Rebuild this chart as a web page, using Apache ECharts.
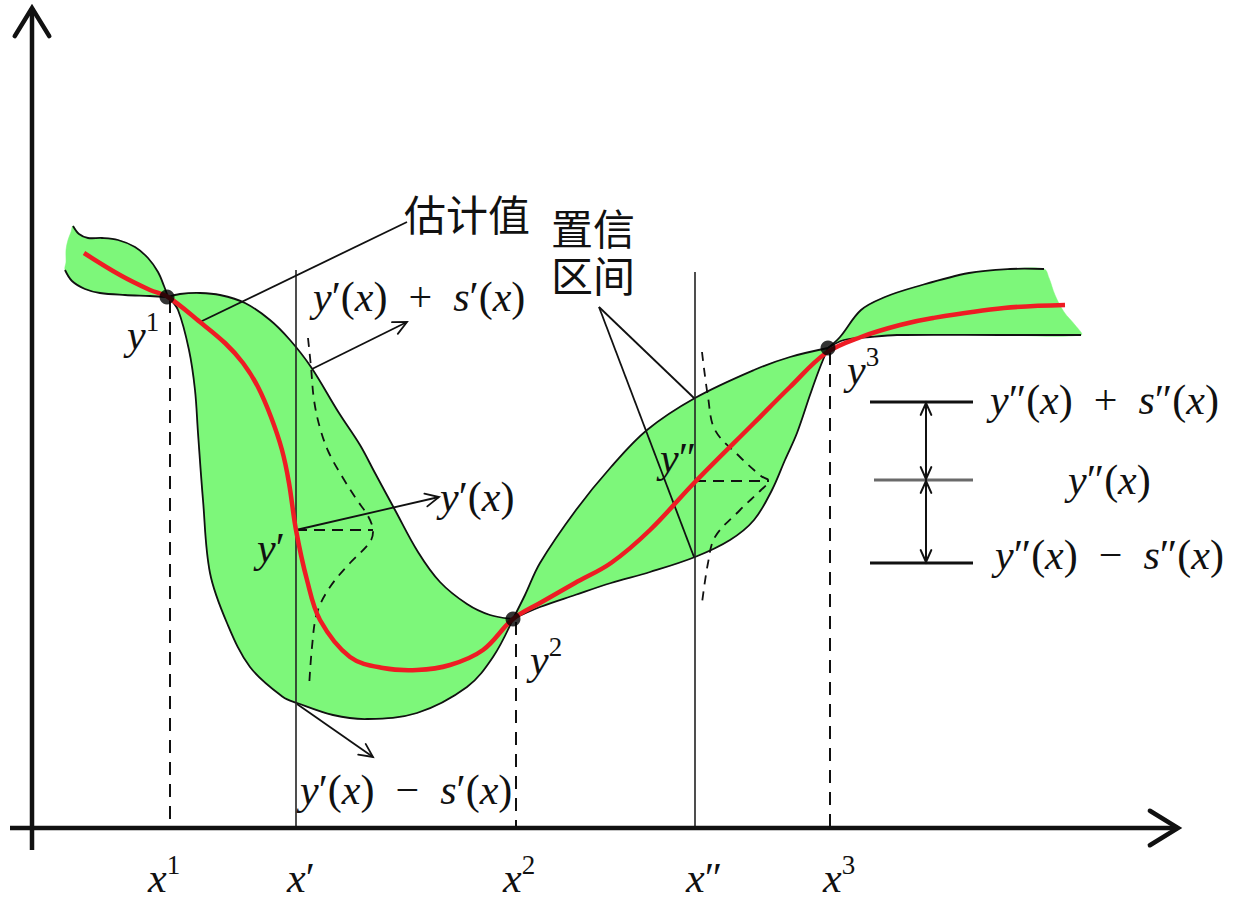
<!DOCTYPE html>
<html><head><meta charset="utf-8">
<script src="https://cdn.jsdelivr.net/npm/echarts@6/dist/echarts.min.js"></script>
<style>html,body{margin:0;padding:0;background:#fff}#c{width:1260px;height:902px}</style>
</head><body><div id="c"></div>
<script>
// ---- band (confidence interval) boundaries, in chart units ----
const leftLobeUpper = [[73,226],[79,234],[88,238],[102,238],[118,240],[135,247],[148,258],[158,272],[164,286],[168,297]];
const leftLobeLower = [[65,270],[72,281],[85,289],[100,293],[125,295],[150,296],[168,297]];
const leftLobeCap   = [[66,262],[66,250],[68,240],[71,232]];
const midLobeUpper  = [[168,297],[180,294],[200,293],[220,295],[245,303],[270,320],[290,340],[311,367],[339,413],[360,445],[375,473],[395,510],[418,552],[440,582],[467,604],[490,615],[513,619]];
const midLobeLower  = [[168,297],[178,310],[189,350],[195,390],[198,433],[203,500],[210,573],[227,623],[250,667],[283,697],[297,703],[333,715],[367,719],[417,713],[467,687],[493,657],[513,619]];
const rLobeUpper    = [[513,619],[525,595],[540,563],[576,510],[611,467],[647,430],[695,398],[754,370],[790,357],[828,348]];
const rLobeLower    = [[513,619],[540,607],[575,595],[611,583],[650,572],[695,557],[730,540],[754,520],[772,490],[785,460],[797,433],[810,395],[819,370],[828,348]];
const endLobeUpper  = [[828,348],[840,337],[861,310],[885,297],[915,287],[969,273],[1010,269],[1044,269]];
const endLobeCap    = [[1049,278],[1055,295],[1064,312],[1075,325]];
const endLobeLower  = [[828,348],[844,340],[870,337],[897,335],[1000,335],[1081,335]];

// ---- estimated curve ----
const estimate = [[84,253],[120,275],[150,290],[168,297],[200,322],[225,343],[243,363],[258,387],[271,417],[282,450],[289,483],[296,530],[307,580],[320,620],[350,657],[383,668],[417,670],[450,665],[483,650],[513,619],[540,603],[575,583],[611,563],[650,530],[695,482],[754,423],[790,387],[826,353],[861,337],[900,325],[933,318],[1004,308],[1065,305]];

// ---- sample nodes ----
const samples = [[167,297],[513,619],[828,348]];

// ---- probability density sketches ----
const densityA = [[308,338],[311,367],[314,400],[320,428],[329,453],[343,478],[357,500],[368,516],[373,530],[370,542],[350,563],[330,587],[317,613],[312,647],[309,688]];
const densityB = [[702,352],[708,397],[715,430],[740,457],[761,476],[769,481],[761,490],[740,510],[715,537],[708,563],[702,603]];

// ---- segments [x1,y1,x2,y2] ----
const axes        = [[32,850,32,8],[10,828,1178,828]];
const solidVerts  = [[296,270,296,828],[695,272,695,828]];
const dashedVerts = [[170,300,170,828],[516,622,516,828],[830,352,830,828]];
const dashedHoriz = [[296,530,373,530],[695,481,769,481]];
const leaders     = [[200,322,407,222],[599,307,694,398],[599,307,694,557]];
const pointers    = [[312,369,407,322],[296,530,439,497],[297,704,373,757]];
const scaleLines  = [[870,402,973,402],[870,563,973,563]];
const scaleMid    = [[874,480,973,480]];
const scaleArrows = [[926,479,926,403],[926,481,926,562]];

// ---- labels [text, x, y] ----
const mathLabels = [
  ['{i|y}{n|′(}{i|x}{n|)  +  }{i|s}{n|′(}{i|x}{n|)}', 313, 297],
  ['{i|y}{n|′(}{i|x}{n|)}', 440, 497],
  ['{i|y}{n|′(}{i|x}{n|)  −  }{i|s}{n|′(}{i|x}{n|)}', 300, 790],
  ['{i|y}{s|1}', 127, 335],
  ['{i|y}{n|′}', 257, 548],
  ['{i|y}{s|2}', 530, 660],
  ['{i|y}{s|3}', 847, 370],
  ['{i|y}{n|″}', 660, 458],
  ['{i|y}{n|″(}{i|x}{n|)  +  }{i|s}{n|″(}{i|x}{n|)}', 990, 400],
  ['{i|y}{n|″(}{i|x}{n|)}', 1068, 480],
  ['{i|y}{n|″(}{i|x}{n|)  −  }{i|s}{n|″(}{i|x}{n|)}', 995, 555],
  ['{i|x}{s|1}', 148, 878],
  ['{i|x}{n|′}', 287, 878],
  ['{i|x}{s|2}', 503, 878],
  ['{i|x}{n|″}', 686, 878],
  ['{i|x}{s|3}', 823, 878]
];
const cjkLabels = [['估计值', 404, 212],['置信', 551, 226],['区间', 551, 273]];

const lobes = [
  {upper:leftLobeUpper, lower:leftLobeLower, left:leftLobeCap, right:[]},
  {upper:midLobeUpper, lower:midLobeLower, left:[], right:[]},
  {upper:rLobeUpper, lower:rLobeLower, left:[], right:[]},
  {upper:endLobeUpper, lower:endLobeLower, left:[], right:endLobeCap}
];

const GREEN = '#7df77a';
const SM = 0.35;

function bandItem(params, api){
  const l = lobes[params.dataIndex];
  const px = p => api.coord(p);
  const up = l.upper.map(px), lo = l.lower.map(px);
  const poly = up.concat(l.right.map(px), lo.slice().reverse(), l.left.map(px));
  return {type:'group', children:[
    {type:'polygon', shape:{points:poly, smooth:SM}, style:{fill:GREEN, stroke:GREEN, lineWidth:0.5}},
    {type:'polyline', shape:{points:up, smooth:SM}, style:{stroke:'#111', lineWidth:1.8, fill:'none'}},
    {type:'polyline', shape:{points:lo, smooth:SM}, style:{stroke:'#111', lineWidth:1.8, fill:'none'}}
  ]};
}

function curveItem(pts, style){
  return function(params, api){
    return {type:'polyline', shape:{points:pts.map(function(p){return api.coord(p);}), smooth:0.35}, style:style};
  };
}

function segSeries(data, o){
  return {type:'custom', coordinateSystem:'cartesian2d', data:data, encode:{x:[0,2], y:[1,3]},
    silent:true, z:o.z||5, clip:false,
    renderItem:function(params, api){
      const a = api.coord([api.value(0), api.value(1)]);
      const b = api.coord([api.value(2), api.value(3)]);
      const color = o.color||'#111';
      const ch = [{type:'line', shape:{x1:a[0],y1:a[1],x2:b[0],y2:b[1]},
        style:{stroke:color, lineWidth:o.width, lineDash:o.dash||null, lineCap:o.cap||'butt'}}];
      const head = function(tip, from){
        const ang = Math.atan2(tip[1]-from[1], tip[0]-from[0]);
        const L = o.headLen, t = o.headAngle;
        return {type:'polyline', shape:{points:[
          [tip[0]-L*Math.cos(ang-t), tip[1]-L*Math.sin(ang-t)], tip,
          [tip[0]-L*Math.cos(ang+t), tip[1]-L*Math.sin(ang+t)]]},
          style:{stroke:color, lineWidth:o.headWidth||o.width, fill:'none', lineJoin:'miter', lineCap:'round'}};
      };
      if (o.headEnd) ch.push(head(b,a));
      if (o.headStart) ch.push(head(a,b));
      return {type:'group', children:ch};
    }};
}

// ---- text rendering with explicit font strings ----
const FONT = {
  i:{font:'italic 42px Liberation Serif, serif', dy:0},
  n:{font:'normal 42px Liberation Serif, serif', dy:0},
  s:{font:'normal 27px Liberation Serif, serif', dy:-13}
};
const CJK_FONT = 'normal 42px Noto Sans CJK SC, sans-serif';
const measureCtx = document.createElement('canvas').getContext('2d');
function parseTokens(str){
  const re = /\{(\w+)\|([^}]*)\}/g, out = [];
  let m;
  while ((m = re.exec(str))) out.push([m[1], m[2]]);
  return out;
}
function mathLabelItem(params, api){
  const t = mathLabels[params.dataIndex];
  const p = api.coord([api.value(0), api.value(1)]);
  let x = p[0];
  const children = [];
  parseTokens(t[0]).forEach(function(tok){
    const f = FONT[tok[0]];
    children.push({type:'text', x:x, y:p[1] + f.dy,
      style:{legacy:false, text:tok[1], font:f.font, fill:'#111', align:'left', verticalAlign:'middle'}});
    measureCtx.font = f.font;
    x += measureCtx.measureText(tok[1]).width;
  });
  return {type:'group', children:children};
}
function cjkLabelItem(params, api){
  const t = cjkLabels[params.dataIndex];
  const p = api.coord([api.value(0), api.value(1)]);
  return {type:'text', x:p[0], y:p[1],
    style:{legacy:false, text:t[0], font:CJK_FONT, fill:'#111', align:'left', verticalAlign:'middle'}};
}

const chart = echarts.init(document.getElementById('c'), null, {renderer:'svg'});
chart.setOption({
  animation:false,
  backgroundColor:'#fff',
  grid:{left:0, right:0, top:0, bottom:0},
  xAxis:{type:'value', min:0, max:1260, show:false},
  yAxis:{type:'value', min:0, max:902, inverse:true, show:false},
  series:[
    {type:'custom', coordinateSystem:'cartesian2d', data:lobes.map(function(l,i){return [i,0];}),
     encode:{x:0, y:1}, renderItem:bandItem, silent:true, clip:false, z:1},
    segSeries(dashedVerts, {width:2, dash:[13,9], z:3}),
    segSeries(solidVerts, {width:1.6, color:'#222', z:3}),
    {type:'custom', coordinateSystem:'cartesian2d', data:[[0,0]], encode:{x:0,y:1}, silent:true, clip:false, z:3,
     renderItem:curveItem(densityA, {stroke:'#111', lineWidth:1.8, lineDash:[9,7], fill:'none'})},
    {type:'custom', coordinateSystem:'cartesian2d', data:[[0,0]], encode:{x:0,y:1}, silent:true, clip:false, z:3,
     renderItem:curveItem(densityB, {stroke:'#111', lineWidth:1.8, lineDash:[9,7], fill:'none'})},
    segSeries(dashedHoriz, {width:2.2, dash:[11,7], z:3}),
    segSeries(leaders, {width:1.8, z:6}),
    segSeries(pointers, {width:1.8, headEnd:true, headLen:15, headAngle:0.45, z:6}),
    {type:'custom', coordinateSystem:'cartesian2d', data:[[0,0]], encode:{x:0,y:1}, silent:true, clip:false, z:8,
     renderItem:curveItem(estimate, {stroke:'#ee1c24', lineWidth:4.5, fill:'none', lineJoin:'round'})},
    {type:'scatter', data:samples, symbolSize:15, itemStyle:{color:'#000'}, silent:true, z:9},
    segSeries(axes, {width:4.5, headEnd:true, headLen:33, headAngle:0.55, z:10}),
    segSeries(scaleLines, {width:3, z:6}),
    segSeries(scaleMid, {width:3, color:'#6a6a6a', z:6}),
    segSeries(scaleArrows, {width:2, headEnd:true, headStart:true, headLen:13, headAngle:0.42, z:7}),
    {type:'custom', coordinateSystem:'cartesian2d', data:mathLabels.map(function(t){return [t[1], t[2]];}),
     encode:{x:0, y:1}, renderItem:mathLabelItem, silent:true, clip:false, z:20},
    {type:'custom', coordinateSystem:'cartesian2d', data:cjkLabels.map(function(t){return [t[1], t[2]];}),
     encode:{x:0, y:1}, renderItem:cjkLabelItem, silent:true, clip:false, z:20}
  ]
});
</script></body></html>
